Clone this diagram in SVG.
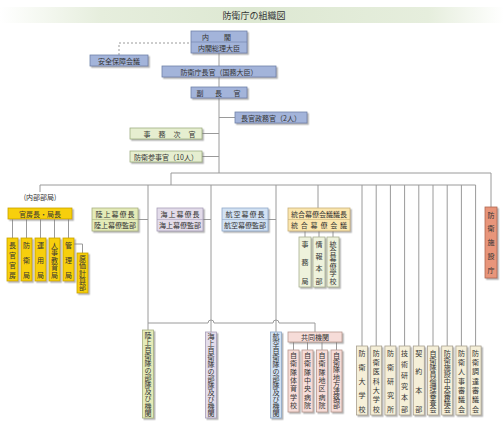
<svg xmlns="http://www.w3.org/2000/svg" width="504" height="426" viewBox="0 0 504 426">
<defs>
<linearGradient id="tg" x1="0" x2="1" y1="0" y2="0">
<stop offset="0" stop-color="#ffffff"/>
<stop offset="0.2" stop-color="#e6eedd"/>
<stop offset="0.5" stop-color="#dde8d2"/>
<stop offset="0.85" stop-color="#e6eedd"/>
<stop offset="1" stop-color="#ffffff"/>
</linearGradient>
<filter id="sh" x="-30%" y="-30%" width="160%" height="160%">
<feDropShadow dx="1.5" dy="1.5" stdDeviation="0.6" flood-color="#777" flood-opacity="0.55"/>
</filter>
</defs>
<style>
text{font-family:"Noto Sans CJK JP","Noto Sans CJK SC",sans-serif;font-size:7px;fill:#333;dominant-baseline:central}
.c{text-anchor:middle}
.v{writing-mode:vertical-rl}
.ln{fill:none;stroke:#9a9a9a;stroke-width:1}
.dash{fill:none;stroke:#9a9a9a;stroke-width:1;stroke-dasharray:2,2}
.bx{stroke-width:0.8;filter:url(#sh)}
.dv{stroke-width:0.6}
.blue{fill:#a3b4da;stroke:#7080a8}
.grn{fill:#e6eed0;stroke:#9fae80}
.gold{fill:#f7cf0a;stroke:#c9a200}
.riku{fill:#e4ebb8;stroke:#a8b080}
.kai{fill:#e3dcea;stroke:#a89fb8}
.ku{fill:#d2e2f3;stroke:#90a8c8}
.togo{fill:#fbe6ae;stroke:#c8b078}
.tsub{fill:#eef2dc;stroke:#a8b090}
.beige{fill:#f5efd8;stroke:#a8a090}
.shi{fill:#e8957a;stroke:#b06850}
.kyo{fill:#f6dcd8;stroke:#b89890}
.title{font-size:9px;fill:#333}
</style>

<rect x="0" y="7" width="504" height="16" fill="url(#tg)"/>
<text class="title c" x="254" y="15.5">防衛庁の組織図</text>

<g id="connectors">
<path class="dash" d="M119,55 V43 H191"/>
<path class="ln" d="M219,53 V173"/>
<path class="ln" d="M219,117.5 H235"/>
<path class="ln" d="M202,133.5 H219"/>
<path class="ln" d="M202,156.5 H219"/>
<path class="ln" d="M171,173 H491 V207"/>
<path class="ln" d="M171,173 V185"/>
<path class="ln" d="M40,185 H475.6"/>
<path class="ln" d="M40,185 V192"/>
<path class="ln" d="M12.5,219 V238 M26.5,219 V238 M40.5,219 V238 M54.5,219 V238 M68.5,219 V238"/>
<path class="ln" d="M74,244 H82.5 V253"/>
<path class="ln" d="M148,185 V330 M211,185 V332 M276,185 V332"/>
<path class="ln" d="M138,219.5 H148 M203,219.5 H211 M268,219.5 H276"/>
<path class="ln" d="M318,185 V208"/>
<path class="ln" d="M305,231 V237 M319,231 V237 M333,231 V237"/>
<path class="ln" d="M362,185 V346 M376.2,185 V346 M390.4,185 V346 M404.6,185 V346 M418.8,185 V346 M433,185 V346 M447.2,185 V346 M461.4,185 V346 M475.6,185 V346"/>
<path class="ln" d="M148,323 H208 A3,3 0 0 1 214,323 H273 A3,3 0 0 1 279,323 H315 V332"/>
<path class="ln" d="M293.5,342 V350 M307.5,342 V350 M322,342 V350 M336.5,342 V350"/>
</g>

<g id="naikaku">
<rect class="bx blue" x="191" y="31" width="56" height="22"/>
<line class="dv" stroke="#7080a8" x1="191" y1="42" x2="247" y2="42"/>
<text x="202" y="36.5" textLength="29" lengthAdjust="spacing">内閣</text>
<text class="c" x="219" y="47.5">内閣総理大臣</text>
</g>
<g id="anzen">
<rect class="bx blue" x="90" y="55" width="58" height="11"/>
<text class="c" x="119" y="60.5">安全保障会議</text>
</g>
<g id="chokan">
<rect class="bx blue" x="162" y="66" width="114" height="11"/>
<text class="c" x="219" y="71.5">防衛庁長官（国務大臣）</text>
</g>
<g id="fuku">
<rect class="bx blue" x="191" y="87" width="56" height="11"/>
<text x="196.5" y="92.5" textLength="44" lengthAdjust="spacing">副長官</text>
</g>
<g id="seimu">
<rect class="bx blue" x="235" y="112" width="72" height="11"/>
<text class="c" x="271" y="117.5">長官政務官（2人）</text>
</g>
<g id="jimu">
<rect class="bx grn" x="130" y="128" width="72" height="11"/>
<text x="143.5" y="133.5" textLength="52" lengthAdjust="spacing">事務次官</text>
</g>
<g id="sanji">
<rect class="bx grn" x="130" y="151" width="72" height="11"/>
<text class="c" x="166" y="156.5">防衛参事官（10人）</text>
</g>

<g id="naibu">
<text class="c" x="40" y="197">(内部部局)</text>
<rect class="bx gold" x="8" y="208" width="64" height="11"/>
<text class="c" x="40" y="213.5">官房長・局長</text>
</g>
<g id="naibu-sub">
<rect class="bx gold" x="7" y="238" width="11" height="43"/>
<text class="v" x="12.5" y="241.5" textLength="37" lengthAdjust="spacing">長官官房</text>
<rect class="bx gold" x="21" y="238" width="11" height="43"/>
<text class="v" x="26.5" y="241.5" textLength="37" lengthAdjust="spacing">防衛局</text>
<rect class="bx gold" x="35" y="238" width="11" height="43"/>
<text class="v" x="40.5" y="241.5" textLength="37" lengthAdjust="spacing">運用局</text>
<rect class="bx gold" x="49" y="238" width="11" height="43"/>
<text class="v" x="54.5" y="241.5" textLength="37" lengthAdjust="spacing">人事教育局</text>
<rect class="bx gold" x="63" y="238" width="11" height="43"/>
<text class="v" x="68.5" y="241.5" textLength="37" lengthAdjust="spacing">管理局</text>
<rect class="bx gold" x="77" y="253" width="11" height="40"/>
<text class="v" x="82.5" y="255" textLength="36" lengthAdjust="spacing">原価計算部</text>
</g>

<g id="riku">
<rect class="bx riku" x="92" y="208" width="46" height="23"/>
<line class="dv" stroke="#a8b080" x1="92" y1="219.5" x2="138" y2="219.5"/>
<text x="95.5" y="214" textLength="39" lengthAdjust="spacing">陸上幕僚長</text>
<text class="c" x="115" y="225.3">陸上幕僚監部</text>
</g>
<g id="kai">
<rect class="bx kai" x="157" y="208" width="46" height="23"/>
<line class="dv" stroke="#a89fb8" x1="157" y1="219.5" x2="203" y2="219.5"/>
<text x="160.5" y="214" textLength="39" lengthAdjust="spacing">海上幕僚長</text>
<text class="c" x="180" y="225.3">海上幕僚監部</text>
</g>
<g id="ku">
<rect class="bx ku" x="222" y="208" width="46" height="23"/>
<line class="dv" stroke="#90a8c8" x1="222" y1="219.5" x2="268" y2="219.5"/>
<text x="225.5" y="214" textLength="39" lengthAdjust="spacing">航空幕僚長</text>
<text class="c" x="245" y="225.3">航空幕僚監部</text>
</g>
<g id="togo">
<rect class="bx togo" x="288" y="208" width="62" height="23"/>
<line class="dv" stroke="#c8b078" x1="288" y1="219.5" x2="350" y2="219.5"/>
<text class="c" x="319" y="214">統合幕僚会議議長</text>
<text x="291" y="225.3" textLength="56" lengthAdjust="spacing">統合幕僚会議</text>
</g>
<g id="togo-sub">
<rect class="bx tsub" x="299" y="237" width="12" height="50"/>
<text class="v" x="305" y="240.5" textLength="44" lengthAdjust="spacing">事務局</text>
<rect class="bx tsub" x="313" y="237" width="12" height="50"/>
<text class="v" x="319" y="240.5" textLength="44" lengthAdjust="spacing">情報本部</text>
<rect class="bx tsub" x="327" y="237" width="12" height="50"/>
<text class="v" x="333" y="240.5" textLength="44" lengthAdjust="spacing">統合幕僚学校</text>
</g>
<g id="shisetsu">
<rect class="bx shi" x="485" y="207" width="12" height="71"/>
<text class="v" x="491" y="211.5" textLength="62" lengthAdjust="spacing">防衛施設庁</text>
</g>

<g id="butai">
<rect class="bx riku" x="142.5" y="330" width="11" height="88"/>
<text class="v" x="148" y="331.5" textLength="85" lengthAdjust="spacing">陸上自衛隊の部隊及び機関</text>
<rect class="bx kai" x="205.5" y="332" width="11" height="86"/>
<text class="v" x="211" y="333" textLength="84" lengthAdjust="spacing">海上自衛隊の部隊及び機関</text>
<rect class="bx ku" x="270.5" y="332" width="11" height="86"/>
<text class="v" x="276" y="333" textLength="84" lengthAdjust="spacing">航空自衛隊の部隊及び機関</text>
</g>

<g id="kyodo">
<rect class="bx kyo" x="288" y="332" width="54" height="10"/>
<text class="c" x="315" y="337">共同機関</text>
<rect class="bx kyo" x="288" y="350" width="11" height="62"/>
<text class="v" x="293.5" y="352" textLength="57" lengthAdjust="spacing">自衛隊体育学校</text>
<rect class="bx kyo" x="302" y="350" width="11" height="62"/>
<text class="v" x="307.5" y="352" textLength="57" lengthAdjust="spacing">自衛隊中央病院</text>
<rect class="bx kyo" x="316.5" y="350" width="11" height="62"/>
<text class="v" x="322" y="352" textLength="57" lengthAdjust="spacing">自衛隊地区病院</text>
<rect class="bx kyo" x="331" y="350" width="11" height="62"/>
<text class="v" x="336.5" y="352" textLength="57" lengthAdjust="spacing">自衛隊地方連絡部</text>
</g>

<g id="kikan">
<rect class="bx beige" x="356.5" y="346" width="11" height="69"/>
<text class="v" x="362" y="349.5" textLength="63" lengthAdjust="spacing">防衛大学校</text>
<rect class="bx beige" x="370.7" y="346" width="11" height="69"/>
<text class="v" x="376.2" y="349.5" textLength="63" lengthAdjust="spacing">防衛医科大学校</text>
<rect class="bx beige" x="384.9" y="346" width="11" height="69"/>
<text class="v" x="390.4" y="349.5" textLength="63" lengthAdjust="spacing">防衛研究所</text>
<rect class="bx beige" x="399.1" y="346" width="11" height="69"/>
<text class="v" x="404.6" y="349.5" textLength="63" lengthAdjust="spacing">技術研究本部</text>
<rect class="bx beige" x="413.3" y="346" width="11" height="69"/>
<text class="v" x="418.8" y="349.5" textLength="63" lengthAdjust="spacing">契約本部</text>
<rect class="bx beige" x="427.5" y="346" width="11" height="69"/>
<text class="v" x="433" y="349.5" textLength="63" lengthAdjust="spacing">自衛隊員倫理審査会</text>
<rect class="bx beige" x="441.7" y="346" width="11" height="69"/>
<text class="v" x="447.2" y="349.5" textLength="63" lengthAdjust="spacing">防衛施設中央審議会</text>
<rect class="bx beige" x="455.9" y="346" width="11" height="69"/>
<text class="v" x="461.4" y="349.5" textLength="63" lengthAdjust="spacing">防衛人事審議会</text>
<rect class="bx beige" x="470.1" y="346" width="11" height="69"/>
<text class="v" x="475.6" y="349.5" textLength="63" lengthAdjust="spacing">防衛調達審議会</text>
</g>
</svg>
